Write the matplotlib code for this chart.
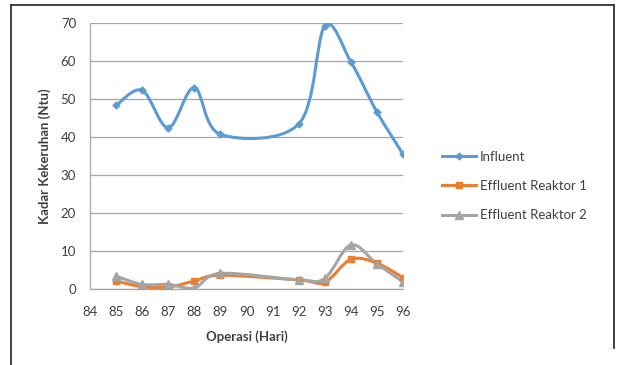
import numpy as np
import matplotlib
matplotlib.use("Agg")
import matplotlib.pyplot as plt
from matplotlib.path import Path
from matplotlib.patches import PathPatch
from matplotlib.lines import Line2D

plt.rcParams['font.family'] = ['Lato', 'DejaVu Sans']

hari = [85, 86, 87, 88, 89, 92, 93, 94, 95, 96]
influent = [48.3, 52.3, 42.4, 53.0, 40.7, 43.4, 69.2, 59.8, 46.6, 35.5]
effluent1 = [2.1, 0.6, 0.5, 2.1, 3.6, 2.4, 1.8, 7.8, 6.8, 3.0]
effluent2 = [3.4, 1.2, 1.2, 0.3, 4.1, 2.4, 2.8, 11.6, 6.6, 1.9]

x_ticks = list(range(84, 97))
y_ticks = list(range(0, 71, 10))


def smooth_path(x, y):
    # excel-like smoothed line (catmull-rom as bezier)
    pts = np.column_stack([x, y]).astype(float)
    n = len(pts)
    verts = [pts[0]]
    codes = [Path.MOVETO]
    for i in range(n - 1):
        p0 = pts[i - 1] if i > 0 else pts[i]
        p1 = pts[i]
        p2 = pts[i + 1]
        p3 = pts[i + 2] if i + 2 < n else pts[i + 1]
        c1 = p1 + (p2 - p0) / 6.0
        c2 = p2 - (p3 - p1) / 6.0
        verts += [c1, c2, p2]
        codes += [Path.CURVE4] * 3
    return Path(verts, codes)


fig = plt.figure(figsize=(6.19, 3.65), dpi=100)
ax = fig.add_axes([90 / 619, 1 - 289 / 365, 313 / 619, 266 / 365])

series = [
    (influent, '#5B9BD5', 'D', 3.5, 'Influent'),
    (effluent1, '#ED7D31', 's', 5, 'Effluent Reaktor 1'),
    (effluent2, '#A5A5A5', '^', 5.5, 'Effluent Reaktor 2'),
]
handles = []
for vals, col, mk, ms, name in series:
    patch = PathPatch(smooth_path(hari, vals), facecolor='none', edgecolor=col,
                      lw=2.2, capstyle='round', joinstyle='round', zorder=3)
    ax.add_patch(patch)
    ax.plot(hari, vals, linestyle='none', marker=mk, ms=ms, color=col, zorder=4)
    handles.append(Line2D([], [], color=col, lw=2.2, marker=mk, ms=ms, label=name))

ax.set_xlim(84, 96)
ax.set_ylim(0, 70)
ax.set_xticks(x_ticks)
ax.set_yticks(y_ticks)
ax.tick_params(axis='x', length=0, pad=12, labelsize=9.5, labelcolor='#404040')
ax.tick_params(axis='y', length=0, pad=10, labelsize=9.5, labelcolor='#404040')
ax.grid(axis='y', color='#a6a6a6', lw=0.9)
ax.set_axisbelow(True)
for s in ['top', 'right']:
    ax.spines[s].set_visible(False)
for s in ['left', 'bottom']:
    ax.spines[s].set_color('#a6a6a6')
    ax.spines[s].set_linewidth(0.9)

ax.set_xlabel('Operasi (Hari)', fontsize=9.5, fontweight='bold', color='#404040', labelpad=9)
ax.set_ylabel('Kadar Kekeruhan (Ntu)', fontsize=9.5, fontweight='bold', color='#404040', labelpad=7)

fig.legend(handles=handles, loc='upper left', bbox_to_anchor=(430 / 619, 1 - 139 / 365),
           frameon=False, fontsize=9.5, handlelength=2.6, labelspacing=1.3,
           handletextpad=0.3, labelcolor='#404040')

# outer frame (no bottom edge)
fig.add_artist(Line2D([11 / 619, 11 / 619], [0, 1 - 5 / 365], color='#333333', lw=1.3))
fig.add_artist(Line2D([11 / 619, 614 / 619], [1 - 5 / 365, 1 - 5 / 365], color='#333333', lw=1.3))
fig.add_artist(Line2D([614 / 619, 614 / 619], [1 - 5 / 365, 1 - 348 / 365], color='#333333', lw=1.3))

fig.savefig('out.png', dpi=100)
